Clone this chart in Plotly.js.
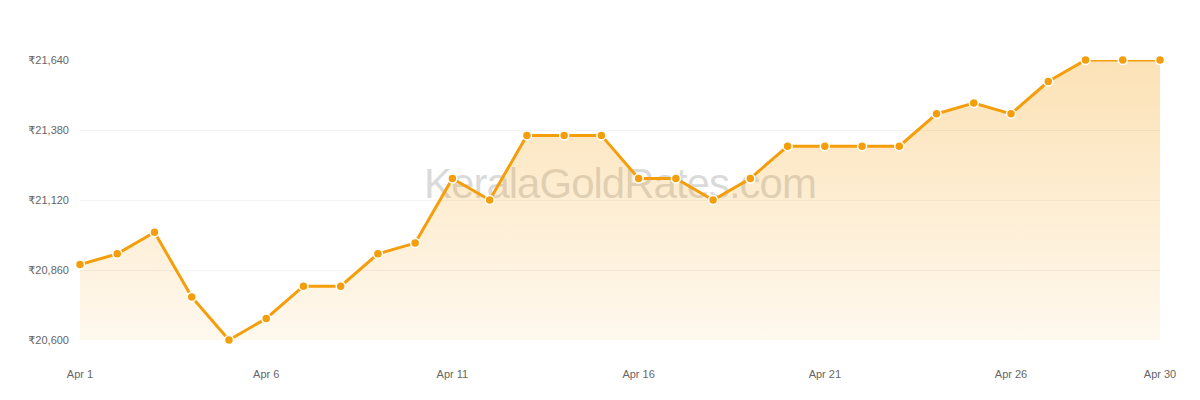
<!DOCTYPE html>
<html>
<head>
<meta charset="utf-8">
<script src="https://cdn.plot.ly/plotly-3.0.1.min.js"></script>
<style>
  html, body { margin: 0; padding: 0; background: #fff; }
  #wrap { position: relative; width: 1200px; height: 400px; }
  #mark {
    position: absolute; left: 0; width: 1240px; top: 160px;
    text-align: center; font-family: "Liberation Sans", Arial, sans-serif;
    font-size: 42px; color: rgba(150,150,150,0.35); letter-spacing: -1px;
  }
  #chart { position: absolute; left: 0; top: 0; width: 1200px; height: 400px; }
</style>
</head>
<body>
<div id="wrap">
  <div id="mark">KeralaGoldRates.com</div>
  <div id="chart"></div>
</div>
<script>
// April gold rate (per 8g, ₹)
const days = [];
for (let d = 1; d <= 30; d++) days.push('Apr ' + d);
const rates = [20880, 20920, 21000, 20760, 20600, 20680, 20800, 20800, 20920, 20960,
               21200, 21120, 21360, 21360, 21360, 21200, 21200, 21120, 21200, 21320,
               21320, 21320, 21320, 21440, 21480, 21440, 21560, 21640, 21640, 21640];
const xTicks = ['Apr 1', 'Apr 6', 'Apr 11', 'Apr 16', 'Apr 21', 'Apr 26', 'Apr 30'];
const yTicks = [20600, 20860, 21120, 21380, 21640];
const yTickText = yTicks.map(v => '₹' + v.toLocaleString('en-US'));

const orange = '#f59e0b';

const trace = {
  x: days, y: rates, type: 'scatter', mode: 'lines+markers',
  line: { color: orange, width: 3 },
  marker: { color: orange, size: 9, line: { color: '#fff', width: 1.5 } },
  fill: 'tozeroy',
  fillgradient: {
    type: 'vertical',
    start: yTicks[0], stop: yTicks[yTicks.length - 1],
    colorscale: [[0, 'rgba(245,158,11,0.07)'], [1, 'rgba(245,158,11,0.3)']]
  },
  cliponaxis: false,
  hoverinfo: 'x+y'
};

const layout = {
  width: 1200, height: 400,
  margin: { l: 80, r: 40, t: 60, b: 60 },
  paper_bgcolor: 'rgba(0,0,0,0)',
  plot_bgcolor: 'rgba(0,0,0,0)',
  showlegend: false,
  font: { family: '"Liberation Sans", "DejaVu Sans", sans-serif', size: 11, color: '#666' },
  xaxis: {
    type: 'category', range: [0, 29],
    tickvals: xTicks, ticktext: xTicks,
    showgrid: false, zeroline: false, showline: false,
    ticks: '', ticklabelstandoff: 26
  },
  yaxis: {
    range: [20600, 21640],
    tickvals: yTicks, ticktext: yTickText,
    gridcolor: '#f3f3f3', gridwidth: 1, zeroline: false, showline: false,
    ticks: '', ticklabelstandoff: 10
  }
};

Plotly.newPlot('chart', [trace], layout, { displayModeBar: false, staticPlot: true });
</script>
</body>
</html>
